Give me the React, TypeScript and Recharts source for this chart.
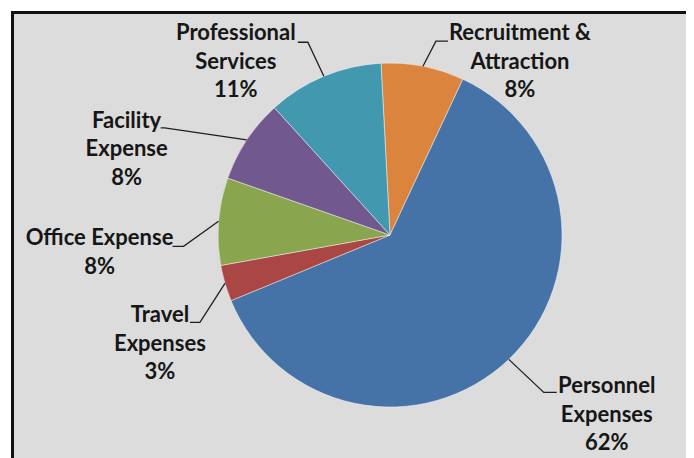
import { PieChart, Pie, Cell } from "recharts";

const CATEGORIES = [
  "Recruitment & Attraction",
  "Personnel Expenses",
  "Travel Expenses",
  "Office Expense",
  "Facility Expense",
  "Professional Services",
];
const SHARES = [7.8, 61.8, 3.4, 8.2, 7.9, 10.9];
const COLORS = ["#DB843D", "#4572A7", "#AA4643", "#89A54E", "#71588F", "#4198AF"];

// label text lines + where the leader elbow / text block sit relative to the slice edge point
const LABEL_LAYOUT: Record<
  string,
  { lines: string[]; elbow: [number, number]; tail: number; text: [number, number] }
> = {
  "Recruitment & Attraction": { lines: ["Recruitment &", "Attraction"], elbow: [13, -25], tail: 12, text: [84, -1] },
  "Personnel Expenses": { lines: ["Personnel", "Expenses"], elbow: [35, 33], tail: 13, text: [63, 1] },
  "Travel Expenses": { lines: ["Travel", "Expenses"], elbow: [-25, 39], tail: -10, text: [-40, 0] },
  "Office Expense": { lines: ["Office Expense"], elbow: [-35, 25], tail: -11, text: [-84, -1] },
  "Facility Expense": { lines: ["Facility", "Expense"], elbow: [-82, -12], tail: -4, text: [-38, 0] },
  "Professional Services": { lines: ["Professional", "Services"], elbow: [-16, -34], tail: -10, text: [-72, -2] },
};

const data = CATEGORIES.map((name, i) => ({ name, value: SHARES[i] }));

const RAD = Math.PI / 180;
const LINE_H = 28.5;

function renderLabel(props: any) {
  const { cx, cy, midAngle, outerRadius, name, percent } = props;
  const layout = LABEL_LAYOUT[name];
  if (!layout) return null;
  const ex = cx + outerRadius * Math.cos(-midAngle * RAD);
  const ey = cy + outerRadius * Math.sin(-midAngle * RAD);
  const bx = ex + layout.elbow[0];
  const by = ey + layout.elbow[1];
  const tx = bx + layout.text[0];
  const ty = by + layout.text[1];
  const lines = [...layout.lines, `${Math.round(percent * 100)}%`];
  return (
    <g>
      <polyline
        points={`${ex},${ey} ${bx},${by} ${bx + layout.tail},${by}`}
        fill="none"
        stroke="#1f1f1f"
        strokeWidth={1.3}
      />
      {lines.map((l, i) => (
        <text
          key={i}
          x={tx}
          y={ty + i * LINE_H}
          textAnchor="middle"
          fill="#161616"
          fontSize={22}
          fontWeight={700}
          fontFamily="Lato, 'Open Sans', sans-serif"
        >
          {l}
        </text>
      ))}
    </g>
  );
}

export default function App() {
  return (
    <div style={{ paddingLeft: 3, paddingTop: 3 }}>
      <div
        style={{
          width: 679,
          height: 460,
          boxSizing: "border-box",
          border: "3px solid #111",
          background: "#DCDCDC",
          overflow: "hidden",
        }}
      >
        <PieChart width={673} height={454} margin={{ top: 0, right: 0, bottom: 0, left: 0 }}>
          <Pie
            data={data}
            dataKey="value"
            nameKey="name"
            cx={376}
            cy={221}
            outerRadius={172}
            startAngle={93}
            endAngle={-267}
            stroke="rgba(255,255,255,0.45)"
            strokeWidth={1}
            label={renderLabel}
            labelLine={false}
            isAnimationActive={false}
          >
            {data.map((d, i) => (
              <Cell key={d.name} fill={COLORS[i]} />
            ))}
          </Pie>
        </PieChart>
      </div>
    </div>
  );
}
